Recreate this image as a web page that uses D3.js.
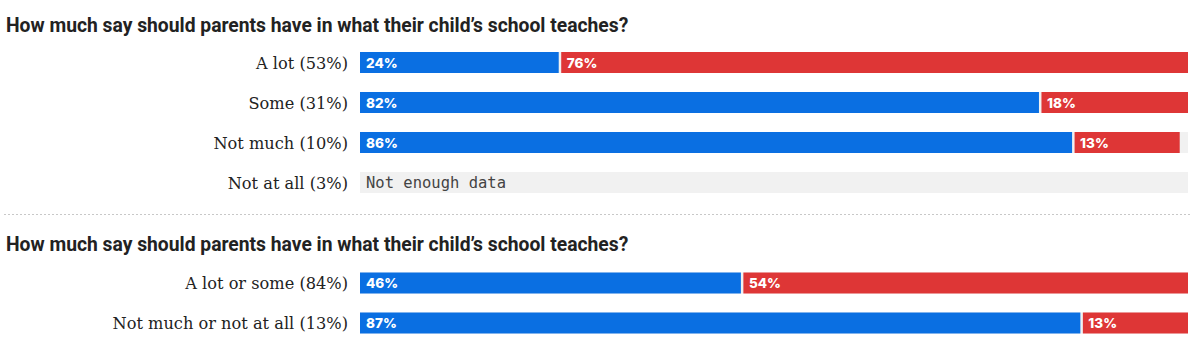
<!DOCTYPE html>
<html><head><meta charset="utf-8">
<script src="https://cdn.jsdelivr.net/npm/d3@7"></script>
<style>
body{margin:0;background:#fff;}
svg{display:block;}
</style></head>
<body>
<svg id="chart" width="1200" height="346"></svg>
<script>
const title = "How much say should parents have in what their child’s school teaches?";
const categories1 = ["A lot (53%)", "Some (31%)", "Not much (10%)", "Not at all (3%)"];
const blue1 = [24, 82, 86, null];
const red1 = [76, 18, 13, null];
const categories2 = ["A lot or some (84%)", "Not much or not at all (13%)"];
const blue2 = [46, 87];
const red2 = [54, 13];
const noDataText = "Not enough data";

const BLUE = "#0a6fe2", RED = "#de3636", GRAY = "#f1f1f1";
const svg = d3.select("#chart");
const x = d3.scaleLinear().domain([0, 100]).range([360, 1188]);
const barH = 21;

function section(top, barTop, cats, blues, reds) {
  svg.append("text").attr("x", 6).attr("y", top)
    .attr("font-family", "Roboto, sans-serif").attr("font-weight", 700)
    .attr("font-size", 19.3).attr("fill", "#222").text(title);
  const y = d3.scaleBand().domain(cats)
    .range([barTop, barTop + (cats.length - 0.475) * 40]).paddingInner(0.475).paddingOuter(0);
  cats.forEach((c, i) => {
    const yy = y(c);
    svg.append("text").attr("x", 348).attr("y", yy + barH / 2 + 6)
      .attr("text-anchor", "end").attr("font-family", "'DejaVu Serif', serif")
      .attr("font-size", 16.2).attr("fill", "#222").text(c);
    svg.append("rect").attr("x", x(0)).attr("y", yy).attr("width", x(100) - x(0)).attr("height", barH).attr("fill", GRAY);
    if (blues[i] == null) {
      svg.append("text").attr("x", x(0) + 6).attr("y", yy + barH / 2 + 5)
        .attr("font-family", "'DejaVu Sans Mono', monospace").attr("font-size", 15.5)
        .attr("fill", "#444").text(noDataText);
      return;
    }
    svg.append("rect").attr("x", x(0)).attr("y", yy).attr("width", x(blues[i]) - x(0)).attr("height", barH).attr("fill", BLUE);
    svg.append("rect").attr("x", x(blues[i]) + 2.5).attr("y", yy).attr("width", Math.max(0, x(blues[i] + reds[i]) - x(blues[i]) - 2.5)).attr("height", barH).attr("fill", RED);
    [[blues[i], 0], [reds[i], blues[i]]].forEach(([v, s]) => {
      svg.append("text").attr("x", x(s) + (s ? 8 : 6)).attr("y", yy + barH / 2 + 5)
        .attr("font-family", "Inter, sans-serif").attr("font-weight", 800)
        .attr("font-size", 13.5).attr("fill", "#fff").text(v + "%");
    });
  });
}

section(32, 52, categories1, blue1, red1);
svg.append("line").attr("x1", 4).attr("x2", 1190).attr("y1", 214.5).attr("y2", 214.5)
  .attr("stroke", "#c8c8c8").attr("stroke-dasharray", "2,2");
section(251, 272.5, categories2, blue2, red2);
</script>
</body></html>
